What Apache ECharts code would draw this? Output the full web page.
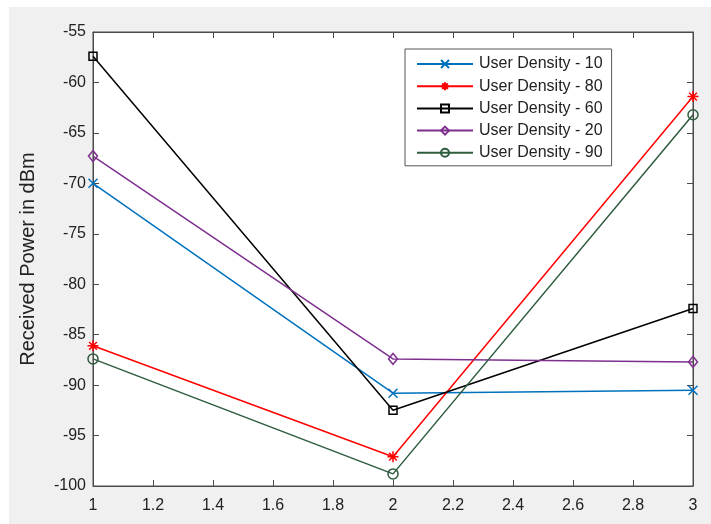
<!DOCTYPE html>
<html>
<head>
<meta charset="utf-8">
<script src="https://cdn.jsdelivr.net/npm/echarts@6/dist/echarts.min.js"></script>
<style>
html,body{margin:0;padding:0;background:#fff;}
#c{width:711px;height:524px;}
</style>
</head>
<body>
<div id="c"></div>
<script>
// Data
var xValues = [1, 2, 3];
var seriesNames = ['User Density - 10', 'User Density - 80', 'User Density - 60', 'User Density - 20', 'User Density - 90'];
var density10 = [-70.0, -90.8, -90.5];
var density80 = [-86.1, -97.1, -61.4];
var density60 = [-57.4, -92.5, -82.4];
var density20 = [-67.3, -87.4, -87.7];
var density90 = [-87.4, -98.8, -63.2];
var yAxisTitle = 'Received Power in dBm';

var colors = ['#0072BD', '#FF0000', '#000000', '#7E2F8E', '#2E5C3E'];
var symbols = [
  'path://M0,0L10,10M10,0L0,10',
  'path://M5,0L5,10M0,5L10,5M1.5,1.5L8.5,8.5M8.5,1.5L1.5,8.5',
  'rect',
  'diamond',
  'circle'
];
var sizes = [9, 11, 8, [9, 11], 10];
var allData = [density10, density80, density60, density20, density90];

function pairs(arr) {
  return xValues.map(function (x, i) { return [x, arr[i]]; });
}

var chart = echarts.init(document.getElementById('c'), null, {renderer: 'canvas'});
var axisColor = '#4a4a4a';
var textColor = '#222222';
var fontFam = 'Liberation Sans, Arial, sans-serif';

var series = allData.map(function (d, i) {
  return {
    name: seriesNames[i],
    type: 'line',
    data: pairs(d),
    symbol: symbols[i],
    symbolSize: sizes[i],
    showAllSymbol: true,
    lineStyle: {color: colors[i], width: 1.5},
    itemStyle: {color: 'none', borderColor: colors[i], borderWidth: 1.5},
    emphasis: {disabled: true},
    animation: false,
    z: 3
  };
});

chart.setOption({
  backgroundColor: '#ffffff',
  animation: false,
  graphic: [{
    type: 'rect',
    shape: {x: 9, y: 7, width: 702, height: 517},
    style: {fill: '#F0F0F0'},
    z: -10,
    silent: true
  }],
  grid: {
    left: 93, top: 32, right: 18, bottom: 38,
    show: true, backgroundColor: '#ffffff', borderColor: axisColor, borderWidth: 1,
    containLabel: false
  },
  legend: {
    orient: 'vertical',
    left: 405, top: 49,
    padding: [7, 9, 5, 11],
    itemWidth: 56, itemHeight: 10, itemGap: 6.2,
    backgroundColor: '#ffffff',
    borderColor: '#555555', borderWidth: 1,
    textStyle: {fontSize: 16, color: textColor, fontFamily: fontFam, padding: [0, 0, 0, 1]},
    data: seriesNames,
    selectedMode: false
  },
  xAxis: [{
    type: 'value', min: 1, max: 3, interval: 0.2,
    position: 'bottom',
    axisLine: {show: true, lineStyle: {color: axisColor, width: 1}},
    axisTick: {show: true, inside: true, length: 6, lineStyle: {color: axisColor}},
    splitLine: {show: false},
    axisLabel: {
      fontSize: 16, color: textColor, fontFamily: fontFam, margin: 12,
      formatter: function (v) { return String(+v.toFixed(1)); }
    }
  }, {
    type: 'value', min: 1, max: 3, interval: 0.2,
    position: 'top',
    axisLine: {show: true, lineStyle: {color: axisColor, width: 1}},
    axisTick: {show: true, inside: true, length: 6, lineStyle: {color: axisColor}},
    splitLine: {show: false},
    axisLabel: {show: false}
  }],
  yAxis: [{
    type: 'value', min: -100, max: -55, interval: 5,
    position: 'left',
    name: yAxisTitle,
    nameLocation: 'middle',
    nameGap: 55,
    nameTextStyle: {fontSize: 20, color: textColor, fontFamily: fontFam},
    axisLine: {show: true, lineStyle: {color: axisColor, width: 1}},
    axisTick: {show: true, inside: true, length: 6, lineStyle: {color: axisColor}},
    splitLine: {show: false},
    axisLabel: {fontSize: 16, color: textColor, fontFamily: fontFam, margin: 7}
  }, {
    type: 'value', min: -100, max: -55, interval: 5,
    position: 'right',
    axisLine: {show: true, lineStyle: {color: axisColor, width: 1}},
    axisTick: {show: true, inside: true, length: 6, lineStyle: {color: axisColor}},
    splitLine: {show: false},
    axisLabel: {show: false}
  }],
  series: series
});
</script>
</body>
</html>
